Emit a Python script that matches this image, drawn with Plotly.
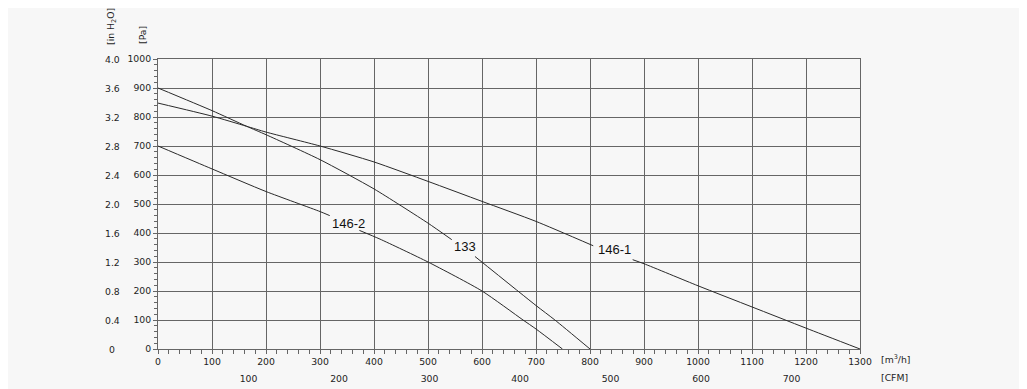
import plotly.graph_objects as go

# ---- data ----
flow_ticks = list(range(0, 1400, 100))          # m3/h
pa_ticks = list(range(0, 1100, 100))            # Pa
cfm_ticks = [100, 200, 300, 400, 500, 600, 700]
cfm_factor = 1.676                              # m3/h per CFM as drawn
inh2o_ticks = [0, 0.4, 0.8, 1.2, 1.6, 2.0, 2.4, 2.8, 3.2, 3.6, 4.0]
inh2o_text = ["0", "0.4", "0.8", "1.2", "1.6", "2.0", "2.4", "2.8", "3.2", "3.6", "4.0"]
pa_per_inh2o = 250

# curves (None marks the gap where the label sits)
c146_1_x = [0, 100, 164, 200, 300, 400, 500, 600, 700, 806, None, 879, 900, 1000, 1100, 1200, 1300]
c146_1_y = [848, 803, 768, 748, 700, 645, 578, 509, 440, 356, None, 308, 294, 218, 145, 72, 0]

c133_x = [0, 100, 164, 200, 300, 400, 500, 544, None, 587, 700, 735, 800]
c133_y = [900, 822, 768, 739, 653, 552, 434, 377, None, 319, 150, 100, 0]

c146_2_x = [0, 100, 200, 300, 318, None, 373, 411, 500, 600, 676, 700, 749]
c146_2_y = [700, 621, 543, 474, 460, None, 409, 379, 300, 200, 100, 69, 0]

curve_labels = ["146-1", "133", "146-2"]
label_x = [845, 568, 352]
label_y = [344, 353, 434]

# ---- layout constants ----
OFF = 8                       # page body margin
W, H = 1027, 389
L, R, T, B = 150, 175, 51, 48
PW, PH = W - L - R, H - T - B
BG = "#f7f7f7"
GRID = "#666666"
TXT = "#1e1e1e"
TICKFONT = dict(family="DejaVu Sans", size=9.3, color=TXT)


def px_x(px):
    return (px - OFF - L) / PW


def px_y(py):
    return (H - B - (py - OFF)) / PH


fig = go.Figure()
for xs, ys in [(c146_1_x, c146_1_y), (c133_x, c133_y), (c146_2_x, c146_2_y)]:
    fig.add_trace(go.Scatter(x=xs, y=ys, mode="lines",
                             line=dict(color="#2a2a2a", width=1, shape="spline", smoothing=0.6),
                             connectgaps=False, showlegend=False, hoverinfo="skip"))

# invisible trace for CFM axis
fig.add_trace(go.Scatter(x=[0, 1300 / cfm_factor], y=[0, 0], xaxis="x2", mode="lines",
                         line=dict(width=0), opacity=0, showlegend=False, hoverinfo="skip"))

annotations = []
for t, x, y in zip(curve_labels, label_x, label_y):
    annotations.append(dict(x=x, y=y, xref="x", yref="y", text=t, showarrow=False,
                            font=dict(family="Liberation Sans", size=13, color="#111")))
for v, t in zip(inh2o_ticks, inh2o_text):
    annotations.append(dict(x=px_x(112), y=v * pa_per_inh2o, xref="paper", yref="y", text=t,
                            showarrow=False, xanchor="center", yanchor="middle", font=TICKFONT))
annotations += [
    dict(x=px_x(879), y=px_y(359), xref="paper", yref="paper", text="[m<sup>3</sup>/h]",
         showarrow=False, xanchor="left", yanchor="middle", font=TICKFONT),
    dict(x=px_x(879), y=px_y(377), xref="paper", yref="paper", text="[CFM]",
         showarrow=False, xanchor="left", yanchor="middle", font=TICKFONT),
    dict(x=px_x(111), y=px_y(27), xref="paper", yref="paper", text="[in H<sub>2</sub>O]",
         showarrow=False, xanchor="center", yanchor="middle", textangle=-90, font=TICKFONT),
    dict(x=px_x(142), y=px_y(35), xref="paper", yref="paper", text="[Pa]",
         showarrow=False, xanchor="center", yanchor="middle", textangle=-90, font=TICKFONT),
]

fig.update_layout(
    width=W, height=H, autosize=False,
    margin=dict(l=L, r=R, t=T, b=B, pad=0),
    paper_bgcolor=BG, plot_bgcolor=BG,
    xaxis=dict(range=[0, 1300], tickvals=flow_ticks, showgrid=True, gridcolor=GRID, gridwidth=1,
               zeroline=False, showline=True, linecolor=GRID, linewidth=1, mirror=True,
               ticks="outside", ticklen=4, tickcolor=GRID, tickfont=TICKFONT,
               minor=dict(dtick=20, ticks="outside", ticklen=4, tickcolor=GRID, showgrid=False)),
    xaxis2=dict(range=[0, 1300 / cfm_factor], overlaying="x", anchor="free", position=0,
                side="bottom", tickvals=cfm_ticks, showgrid=False, zeroline=False, showline=False,
                ticks="outside", ticklen=21, tickcolor="rgba(0,0,0,0)", tickfont=TICKFONT),
    yaxis=dict(range=[0, 1000], tickvals=pa_ticks, showgrid=True, gridcolor=GRID, gridwidth=1,
               zeroline=False, showline=True, linecolor=GRID, linewidth=1, mirror=True,
               ticks="outside", ticklen=4, tickcolor=GRID, tickfont=TICKFONT,
               minor=dict(dtick=20, ticks="outside", ticklen=3, tickcolor=GRID, showgrid=False)),
    annotations=annotations,
)

fig.write_html("out.html")
